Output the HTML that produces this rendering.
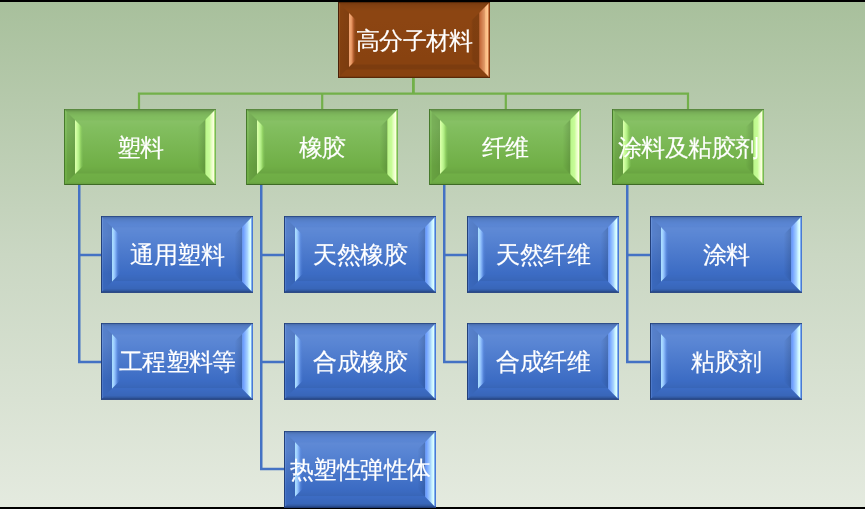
<!DOCTYPE html>
<html><head><meta charset="utf-8"><title>高分子材料</title><style>
html,body{margin:0;padding:0;}
body{width:865px;height:509px;overflow:hidden;position:relative;background:#000;font-family:"Liberation Sans",sans-serif;}
#bg{position:absolute;left:0;top:2px;width:865px;height:505px;background:linear-gradient(#a8c09c,#cad7c3 50%,#e4eadf);}
svg{position:absolute;left:0;top:0;}
#tx{position:absolute;left:0;top:0;width:865px;height:509px;will-change:transform;}
.t{position:absolute;width:152px;height:76px;display:flex;align-items:center;justify-content:center;color:#fff;font-size:23.5px;letter-spacing:-0.6px;-webkit-text-stroke:0.15px #fff;white-space:nowrap;}
</style></head><body>
<div id="bg"></div>
<svg width="865" height="509" viewBox="0 0 865 509">
<defs><linearGradient id="gface" x1="0" y1="19" x2="0" y2="57" gradientUnits="userSpaceOnUse"><stop offset="0.0000" stop-color="#82be5f"/><stop offset="1.0000" stop-color="#70af46"/></linearGradient><linearGradient id="gtop" x1="0" y1="0" x2="0" y2="19" gradientUnits="userSpaceOnUse"><stop offset="0.0789" stop-color="#000" stop-opacity="0.2"/><stop offset="0.1579" stop-color="#000" stop-opacity="0.1"/><stop offset="0.3158" stop-color="#000" stop-opacity="0.03"/><stop offset="0.4737" stop-color="#000" stop-opacity="0"/><stop offset="0.6316" stop-color="#fff" stop-opacity="0.04"/><stop offset="1.0000" stop-color="#fff" stop-opacity="0"/></linearGradient><linearGradient id="gbot" x1="0" y1="57" x2="0" y2="76" gradientUnits="userSpaceOnUse"><stop offset="0.0000" stop-color="#000" stop-opacity="0"/><stop offset="0.2105" stop-color="#000" stop-opacity="0.03"/><stop offset="0.3684" stop-color="#000" stop-opacity="0.06"/><stop offset="0.4211" stop-color="#000" stop-opacity="0"/><stop offset="0.8421" stop-color="#000" stop-opacity="0.02"/><stop offset="0.9211" stop-color="#000" stop-opacity="0.08"/></linearGradient><linearGradient id="gleft" x1="0" y1="0" x2="19" y2="0" gradientUnits="userSpaceOnUse"><stop offset="0.0789" stop-color="#fff" stop-opacity="0.0"/><stop offset="0.1579" stop-color="#000" stop-opacity="0.07"/><stop offset="0.5526" stop-color="#000" stop-opacity="0.12"/><stop offset="0.6053" stop-color="#d8ffa8"/><stop offset="0.6842" stop-color="#c8fc98"/><stop offset="0.7895" stop-color="#b0ec84"/><stop offset="0.8684" stop-color="#98d868" stop-opacity="0.85"/><stop offset="0.9474" stop-color="#88c860" stop-opacity="0.45"/><stop offset="1.0000" stop-color="#80c058" stop-opacity="0.15"/></linearGradient><linearGradient id="gright" x1="133" y1="0" x2="152" y2="0" gradientUnits="userSpaceOnUse"><stop offset="0.0263" stop-color="#000" stop-opacity="0"/><stop offset="0.3947" stop-color="#000" stop-opacity="0.12"/><stop offset="0.4474" stop-color="#a0d870"/><stop offset="0.5000" stop-color="#bdf88e"/><stop offset="0.6579" stop-color="#c8fc98"/><stop offset="0.7632" stop-color="#e4ffc0"/><stop offset="0.8684" stop-color="#fcffe0"/><stop offset="0.9211" stop-color="#b0e080"/><stop offset="0.9737" stop-color="#78b858"/></linearGradient><linearGradient id="bface" x1="0" y1="19" x2="0" y2="57" gradientUnits="userSpaceOnUse"><stop offset="0.0000" stop-color="#5a86d4"/><stop offset="1.0000" stop-color="#3c6cc4"/></linearGradient><linearGradient id="btop" x1="0" y1="0" x2="0" y2="19" gradientUnits="userSpaceOnUse"><stop offset="0.0789" stop-color="#000" stop-opacity="0.16"/><stop offset="0.1579" stop-color="#000" stop-opacity="0.08"/><stop offset="0.3158" stop-color="#000" stop-opacity="0.03"/><stop offset="0.4737" stop-color="#000" stop-opacity="0"/><stop offset="0.6316" stop-color="#fff" stop-opacity="0.03"/><stop offset="1.0000" stop-color="#fff" stop-opacity="0"/></linearGradient><linearGradient id="bbot" x1="0" y1="57" x2="0" y2="76" gradientUnits="userSpaceOnUse"><stop offset="0.0000" stop-color="#000" stop-opacity="0"/><stop offset="0.2105" stop-color="#000" stop-opacity="0.03"/><stop offset="0.3684" stop-color="#000" stop-opacity="0.06"/><stop offset="0.4211" stop-color="#000" stop-opacity="0"/><stop offset="0.7895" stop-color="#000" stop-opacity="0.06"/><stop offset="0.9211" stop-color="#000" stop-opacity="0.22"/></linearGradient><linearGradient id="bleft" x1="0" y1="0" x2="19" y2="0" gradientUnits="userSpaceOnUse"><stop offset="0.0789" stop-color="#fff" stop-opacity="0.08"/><stop offset="0.1316" stop-color="#000" stop-opacity="0.04"/><stop offset="0.5526" stop-color="#000" stop-opacity="0.08"/><stop offset="0.6053" stop-color="#a8dcff"/><stop offset="0.6842" stop-color="#a0d0ff"/><stop offset="0.7895" stop-color="#80b0f8" stop-opacity="0.85"/><stop offset="0.8947" stop-color="#5a8ae0" stop-opacity="0.45"/><stop offset="1.0000" stop-color="#5080d8" stop-opacity="0"/></linearGradient><linearGradient id="bright" x1="133" y1="0" x2="152" y2="0" gradientUnits="userSpaceOnUse"><stop offset="0.0263" stop-color="#000" stop-opacity="0"/><stop offset="0.3947" stop-color="#000" stop-opacity="0.12"/><stop offset="0.4474" stop-color="#6a9af0"/><stop offset="0.5000" stop-color="#70a0ff"/><stop offset="0.7105" stop-color="#a8d4ff"/><stop offset="0.7895" stop-color="#c8f2ff"/><stop offset="0.8684" stop-color="#dcffff"/><stop offset="0.9211" stop-color="#80b0f0"/><stop offset="0.9737" stop-color="#4a7ad4"/></linearGradient><linearGradient id="rface" x1="0" y1="19" x2="0" y2="57" gradientUnits="userSpaceOnUse"><stop offset="0.0000" stop-color="#8c4512"/><stop offset="1.0000" stop-color="#884210"/></linearGradient><linearGradient id="rtop" x1="0" y1="0" x2="0" y2="19" gradientUnits="userSpaceOnUse"><stop offset="0.0789" stop-color="#000" stop-opacity="0.14"/><stop offset="0.1579" stop-color="#000" stop-opacity="0.08"/><stop offset="0.3158" stop-color="#000" stop-opacity="0.04"/><stop offset="0.4737" stop-color="#000" stop-opacity="0"/><stop offset="1.0000" stop-color="#000" stop-opacity="0"/></linearGradient><linearGradient id="rbot" x1="0" y1="57" x2="0" y2="76" gradientUnits="userSpaceOnUse"><stop offset="0.0000" stop-color="#000" stop-opacity="0"/><stop offset="0.2632" stop-color="#000" stop-opacity="0"/><stop offset="0.3158" stop-color="#000" stop-opacity="0.09"/><stop offset="0.5263" stop-color="#000" stop-opacity="0.09"/><stop offset="0.5789" stop-color="#000" stop-opacity="0"/><stop offset="0.8947" stop-color="#000" stop-opacity="0"/><stop offset="0.9737" stop-color="#000" stop-opacity="0.3"/></linearGradient><linearGradient id="rleft" x1="0" y1="0" x2="19" y2="0" gradientUnits="userSpaceOnUse"><stop offset="0.0789" stop-color="#fff" stop-opacity="0.08"/><stop offset="0.1316" stop-color="#000" stop-opacity="0.05"/><stop offset="0.5526" stop-color="#000" stop-opacity="0.09"/><stop offset="0.6053" stop-color="#f2a472"/><stop offset="0.6842" stop-color="#eca06c"/><stop offset="0.7368" stop-color="#e08c58"/><stop offset="0.7895" stop-color="#c87040" stop-opacity="0.9"/><stop offset="0.8684" stop-color="#a8582a" stop-opacity="0.6"/><stop offset="0.9737" stop-color="#8e4414" stop-opacity="0"/></linearGradient><linearGradient id="rright" x1="133" y1="0" x2="152" y2="0" gradientUnits="userSpaceOnUse"><stop offset="0.0000" stop-color="#000" stop-opacity="0"/><stop offset="0.1053" stop-color="#000" stop-opacity="0.09"/><stop offset="0.3947" stop-color="#000" stop-opacity="0.09"/><stop offset="0.4474" stop-color="#b06030"/><stop offset="0.5000" stop-color="#c87040"/><stop offset="0.7105" stop-color="#e09a68"/><stop offset="0.7632" stop-color="#f8b880"/><stop offset="0.8684" stop-color="#ffc890"/><stop offset="0.9211" stop-color="#d08050"/><stop offset="0.9737" stop-color="#8a4010"/></linearGradient></defs>
<path d="M413.4 77 V93.6" stroke="#72b049" stroke-width="2.8" fill="none"/><path d="M139 110 V92.6 M322.2 110 V93.6 M505.8 110 V93.6 M688 110 V92.6 M138 93.6 H689" stroke="#72b049" stroke-width="2.2" fill="none"/><path d="M79.25 184 V363.25 M78.0 255 H102 M78.0 362 H102" stroke="#4472c4" stroke-width="2.5" fill="none"/><path d="M261.25 184 V470.25 M260.0 255 H285 M260.0 362 H285 M260.0 469 H285" stroke="#4472c4" stroke-width="2.5" fill="none"/><path d="M444.25 184 V363.25 M443.0 255 H468 M443.0 362 H468" stroke="#4472c4" stroke-width="2.5" fill="none"/><path d="M627.25 184 V363.25 M626.0 255 H651 M626.0 362 H651" stroke="#4472c4" stroke-width="2.5" fill="none"/>
<g transform="translate(338,2) scale(1,1.0000)"><g>
<rect x="0" y="0" width="152" height="76" fill="url(#rface)"/>
<polygon points="0,0 152,0 133,19 19,19" fill="url(#rtop)"/>
<polygon points="0,76 152,76 133,57 19,57" fill="url(#rbot)"/>
<polygon points="0,0 19,19 19,57 0,76" fill="url(#rleft)"/>
<polygon points="152,0 152,76 133,57 133,19" fill="url(#rright)"/>
<rect x="0" y="0" width="152" height="1" fill="#5a2a08"/>
<rect x="0" y="75" width="152" height="1" fill="#5a2808"/>
<rect x="0" y="0" width="1" height="76" fill="#4a2008"/>
</g></g><g transform="translate(64,109) scale(1,1.0000)"><g>
<rect x="0" y="0" width="152" height="76" fill="url(#gface)"/>
<polygon points="0,0 152,0 133,19 19,19" fill="url(#gtop)"/>
<polygon points="0,76 152,76 133,57 19,57" fill="url(#gbot)"/>
<polygon points="0,0 19,19 19,57 0,76" fill="url(#gleft)"/>
<polygon points="152,0 152,76 133,57 133,19" fill="url(#gright)"/>
<rect x="0" y="0" width="152" height="1" fill="#5a8a40"/>
<rect x="0" y="75" width="152" height="1" fill="#3e6a25"/>
<rect x="0" y="0" width="1" height="76" fill="#477a2c"/>
</g></g><g transform="translate(246,109) scale(1,1.0000)"><g>
<rect x="0" y="0" width="152" height="76" fill="url(#gface)"/>
<polygon points="0,0 152,0 133,19 19,19" fill="url(#gtop)"/>
<polygon points="0,76 152,76 133,57 19,57" fill="url(#gbot)"/>
<polygon points="0,0 19,19 19,57 0,76" fill="url(#gleft)"/>
<polygon points="152,0 152,76 133,57 133,19" fill="url(#gright)"/>
<rect x="0" y="0" width="152" height="1" fill="#5a8a40"/>
<rect x="0" y="75" width="152" height="1" fill="#3e6a25"/>
<rect x="0" y="0" width="1" height="76" fill="#477a2c"/>
</g></g><g transform="translate(429,109) scale(1,1.0000)"><g>
<rect x="0" y="0" width="152" height="76" fill="url(#gface)"/>
<polygon points="0,0 152,0 133,19 19,19" fill="url(#gtop)"/>
<polygon points="0,76 152,76 133,57 19,57" fill="url(#gbot)"/>
<polygon points="0,0 19,19 19,57 0,76" fill="url(#gleft)"/>
<polygon points="152,0 152,76 133,57 133,19" fill="url(#gright)"/>
<rect x="0" y="0" width="152" height="1" fill="#5a8a40"/>
<rect x="0" y="75" width="152" height="1" fill="#3e6a25"/>
<rect x="0" y="0" width="1" height="76" fill="#477a2c"/>
</g></g><g transform="translate(612,109) scale(1,1.0000)"><g>
<rect x="0" y="0" width="152" height="76" fill="url(#gface)"/>
<polygon points="0,0 152,0 133,19 19,19" fill="url(#gtop)"/>
<polygon points="0,76 152,76 133,57 19,57" fill="url(#gbot)"/>
<polygon points="0,0 19,19 19,57 0,76" fill="url(#gleft)"/>
<polygon points="152,0 152,76 133,57 133,19" fill="url(#gright)"/>
<rect x="0" y="0" width="152" height="1" fill="#5a8a40"/>
<rect x="0" y="75" width="152" height="1" fill="#3e6a25"/>
<rect x="0" y="0" width="1" height="76" fill="#477a2c"/>
</g></g><g transform="translate(101,216) scale(1,1.0092)"><g>
<rect x="0" y="0" width="152" height="76" fill="url(#bface)"/>
<polygon points="0,0 152,0 133,19 19,19" fill="url(#btop)"/>
<polygon points="0,76 152,76 133,57 19,57" fill="url(#bbot)"/>
<polygon points="0,0 19,19 19,57 0,76" fill="url(#bleft)"/>
<polygon points="152,0 152,76 133,57 133,19" fill="url(#bright)"/>
<rect x="0" y="0" width="152" height="1" fill="#2e4e8a"/>
<rect x="0" y="75" width="152" height="1" fill="#1e3a78"/>
<rect x="0" y="0" width="1" height="76" fill="#23407a"/>
</g></g><g transform="translate(101,323) scale(1,1.0092)"><g>
<rect x="0" y="0" width="152" height="76" fill="url(#bface)"/>
<polygon points="0,0 152,0 133,19 19,19" fill="url(#btop)"/>
<polygon points="0,76 152,76 133,57 19,57" fill="url(#bbot)"/>
<polygon points="0,0 19,19 19,57 0,76" fill="url(#bleft)"/>
<polygon points="152,0 152,76 133,57 133,19" fill="url(#bright)"/>
<rect x="0" y="0" width="152" height="1" fill="#2e4e8a"/>
<rect x="0" y="75" width="152" height="1" fill="#1e3a78"/>
<rect x="0" y="0" width="1" height="76" fill="#23407a"/>
</g></g><g transform="translate(284,216) scale(1,1.0092)"><g>
<rect x="0" y="0" width="152" height="76" fill="url(#bface)"/>
<polygon points="0,0 152,0 133,19 19,19" fill="url(#btop)"/>
<polygon points="0,76 152,76 133,57 19,57" fill="url(#bbot)"/>
<polygon points="0,0 19,19 19,57 0,76" fill="url(#bleft)"/>
<polygon points="152,0 152,76 133,57 133,19" fill="url(#bright)"/>
<rect x="0" y="0" width="152" height="1" fill="#2e4e8a"/>
<rect x="0" y="75" width="152" height="1" fill="#1e3a78"/>
<rect x="0" y="0" width="1" height="76" fill="#23407a"/>
</g></g><g transform="translate(284,323) scale(1,1.0092)"><g>
<rect x="0" y="0" width="152" height="76" fill="url(#bface)"/>
<polygon points="0,0 152,0 133,19 19,19" fill="url(#btop)"/>
<polygon points="0,76 152,76 133,57 19,57" fill="url(#bbot)"/>
<polygon points="0,0 19,19 19,57 0,76" fill="url(#bleft)"/>
<polygon points="152,0 152,76 133,57 133,19" fill="url(#bright)"/>
<rect x="0" y="0" width="152" height="1" fill="#2e4e8a"/>
<rect x="0" y="75" width="152" height="1" fill="#1e3a78"/>
<rect x="0" y="0" width="1" height="76" fill="#23407a"/>
</g></g><g transform="translate(284,431) scale(1,1.0092)"><g>
<rect x="0" y="0" width="152" height="76" fill="url(#bface)"/>
<polygon points="0,0 152,0 133,19 19,19" fill="url(#btop)"/>
<polygon points="0,76 152,76 133,57 19,57" fill="url(#bbot)"/>
<polygon points="0,0 19,19 19,57 0,76" fill="url(#bleft)"/>
<polygon points="152,0 152,76 133,57 133,19" fill="url(#bright)"/>
<rect x="0" y="0" width="152" height="1" fill="#2e4e8a"/>
<rect x="0" y="75" width="152" height="1" fill="#1e3a78"/>
<rect x="0" y="0" width="1" height="76" fill="#23407a"/>
</g></g><g transform="translate(467,216) scale(1,1.0092)"><g>
<rect x="0" y="0" width="152" height="76" fill="url(#bface)"/>
<polygon points="0,0 152,0 133,19 19,19" fill="url(#btop)"/>
<polygon points="0,76 152,76 133,57 19,57" fill="url(#bbot)"/>
<polygon points="0,0 19,19 19,57 0,76" fill="url(#bleft)"/>
<polygon points="152,0 152,76 133,57 133,19" fill="url(#bright)"/>
<rect x="0" y="0" width="152" height="1" fill="#2e4e8a"/>
<rect x="0" y="75" width="152" height="1" fill="#1e3a78"/>
<rect x="0" y="0" width="1" height="76" fill="#23407a"/>
</g></g><g transform="translate(467,323) scale(1,1.0092)"><g>
<rect x="0" y="0" width="152" height="76" fill="url(#bface)"/>
<polygon points="0,0 152,0 133,19 19,19" fill="url(#btop)"/>
<polygon points="0,76 152,76 133,57 19,57" fill="url(#bbot)"/>
<polygon points="0,0 19,19 19,57 0,76" fill="url(#bleft)"/>
<polygon points="152,0 152,76 133,57 133,19" fill="url(#bright)"/>
<rect x="0" y="0" width="152" height="1" fill="#2e4e8a"/>
<rect x="0" y="75" width="152" height="1" fill="#1e3a78"/>
<rect x="0" y="0" width="1" height="76" fill="#23407a"/>
</g></g><g transform="translate(650,216) scale(1,1.0092)"><g>
<rect x="0" y="0" width="152" height="76" fill="url(#bface)"/>
<polygon points="0,0 152,0 133,19 19,19" fill="url(#btop)"/>
<polygon points="0,76 152,76 133,57 19,57" fill="url(#bbot)"/>
<polygon points="0,0 19,19 19,57 0,76" fill="url(#bleft)"/>
<polygon points="152,0 152,76 133,57 133,19" fill="url(#bright)"/>
<rect x="0" y="0" width="152" height="1" fill="#2e4e8a"/>
<rect x="0" y="75" width="152" height="1" fill="#1e3a78"/>
<rect x="0" y="0" width="1" height="76" fill="#23407a"/>
</g></g><g transform="translate(650,323) scale(1,1.0092)"><g>
<rect x="0" y="0" width="152" height="76" fill="url(#bface)"/>
<polygon points="0,0 152,0 133,19 19,19" fill="url(#btop)"/>
<polygon points="0,76 152,76 133,57 19,57" fill="url(#bbot)"/>
<polygon points="0,0 19,19 19,57 0,76" fill="url(#bleft)"/>
<polygon points="152,0 152,76 133,57 133,19" fill="url(#bright)"/>
<rect x="0" y="0" width="152" height="1" fill="#2e4e8a"/>
<rect x="0" y="75" width="152" height="1" fill="#1e3a78"/>
<rect x="0" y="0" width="1" height="76" fill="#23407a"/>
</g></g>
</svg>
<div id="tx"><div class="t" style="left:338.25px;top:2.5px">高分子材料</div><div class="t" style="left:64.25px;top:109.5px">塑料</div><div class="t" style="left:246.25px;top:109.5px">橡胶</div><div class="t" style="left:429.25px;top:109.5px">纤维</div><div class="t" style="left:612.25px;top:109.5px">涂料及粘胶剂</div><div class="t" style="left:101.25px;top:216.5px">通用塑料</div><div class="t" style="left:101.25px;top:323.5px">工程塑料等</div><div class="t" style="left:284.25px;top:216.5px">天然橡胶</div><div class="t" style="left:284.25px;top:323.5px">合成橡胶</div><div class="t" style="left:284.25px;top:431.5px">热塑性弹性体</div><div class="t" style="left:467.25px;top:216.5px">天然纤维</div><div class="t" style="left:467.25px;top:323.5px">合成纤维</div><div class="t" style="left:650.25px;top:216.5px">涂料</div><div class="t" style="left:650.25px;top:323.5px">粘胶剂</div></div>
</body></html>
